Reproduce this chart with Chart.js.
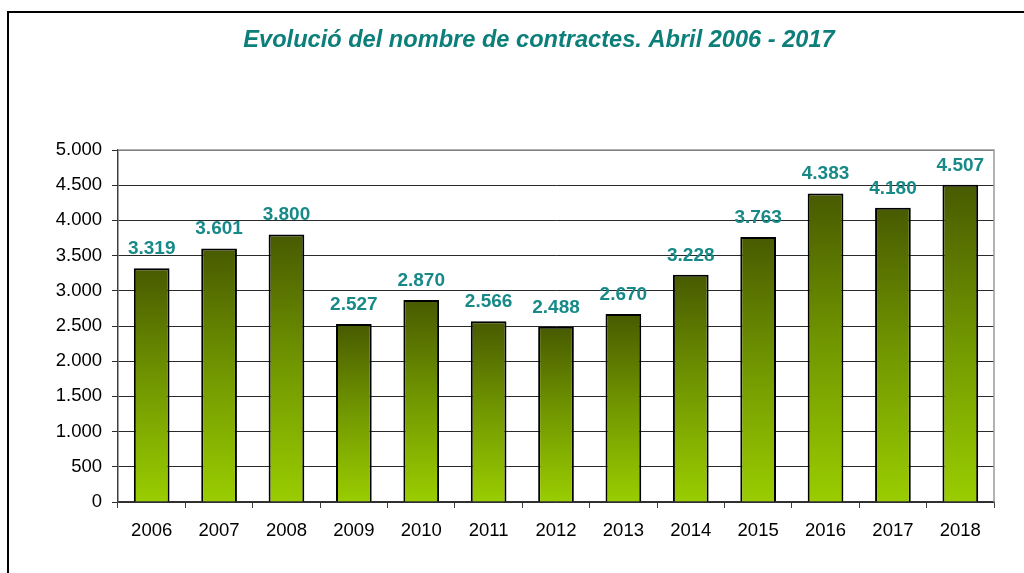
<!DOCTYPE html>
<html>
<head>
<meta charset="utf-8">
<script src="https://cdn.jsdelivr.net/npm/chart.js@4/dist/chart.umd.min.js"></script>
<style>
  html, body { margin: 0; padding: 0; background: #fff; }
  #wrap { width: 1024px; height: 573px; position: relative; }
</style>
</head>
<body>
<div id="wrap"><canvas id="c" width="1024" height="573"></canvas></div>
<script>
const titleText = 'Evolució del nombre de contractes. Abril 2006 - 2017';
const years = ['2006','2007','2008','2009','2010','2011','2012','2013','2014','2015','2016','2017','2018'];
const contracts = [3319, 3601, 3800, 2527, 2870, 2566, 2488, 2670, 3228, 3763, 4383, 4180, 4507];
const yMin = 0;
const yMax = 5000;
const yStep = 500;

function fmt(v) {
  return String(v).replace(/\B(?=(\d{3})+(?!\d))/g, '.');
}

const FONT = "'Liberation Sans', Arial, sans-serif";

const framePlugin = {
  id: 'frame',
  beforeDraw(chart) {
    const ctx = chart.ctx;
    ctx.save();
    ctx.fillStyle = '#fff';
    ctx.fillRect(0, 0, chart.width, chart.height);
    ctx.strokeStyle = '#000';
    ctx.lineWidth = 2;
    ctx.beginPath();
    ctx.moveTo(8, chart.height + 5);
    ctx.lineTo(8, 12);
    ctx.lineTo(chart.width + 5, 12);
    ctx.stroke();
    // title
    ctx.fillStyle = '#0c7f7a';
    ctx.font = "italic bold 23.6px " + FONT;
    ctx.textAlign = 'center';
    ctx.textBaseline = 'alphabetic';
    ctx.fillText(titleText, 539, 47);
    ctx.restore();
  },
  afterDraw(chart) {
    const a = chart.chartArea;
    const ctx = chart.ctx;
    ctx.save();
    ctx.strokeStyle = '#9a9a9a';
    ctx.lineWidth = 1.5;
    ctx.beginPath();
    ctx.moveTo(a.left, a.top);
    ctx.lineTo(a.right, a.top);
    ctx.lineTo(a.right, a.bottom);
    ctx.stroke();
    ctx.restore();
  },
  afterDatasetsDraw(chart) {
    const ctx = chart.ctx;
    const meta = chart.getDatasetMeta(0);
    ctx.save();
    ctx.fillStyle = '#178a88';
    ctx.font = "bold 19px " + FONT;
    ctx.textAlign = 'center';
    ctx.textBaseline = 'alphabetic';
    meta.data.forEach((bar, i) => {
      ctx.fillText(fmt(contracts[i]), bar.x, bar.y - 14);
    });
    ctx.restore();
  }
};

function barGradient(context) {
  const chart = context.chart;
  const ys = chart.scales && chart.scales.y;
  if (!chart.chartArea || !ys || context.raw === undefined) return '#7a9e00';
  const top = ys.getPixelForValue(context.raw);
  const bottom = ys.getPixelForValue(0);
  if (!isFinite(top) || !isFinite(bottom) || top === bottom) return '#7a9e00';
  const g = chart.ctx.createLinearGradient(0, top, 0, bottom);
  g.addColorStop(0, '#485a00');
  g.addColorStop(0.5, '#729800');
  g.addColorStop(1, '#9acd00');
  return g;
}

new Chart(document.getElementById('c'), {
  type: 'bar',
  data: {
    labels: years,
    datasets: [{
      data: contracts,
      backgroundColor: barGradient,
      borderColor: '#000',
      borderWidth: 2,
      categoryPercentage: 1,
      barPercentage: 0.53
    }]
  },
  plugins: [framePlugin],
  options: {
    responsive: false,
    animation: false,
    devicePixelRatio: 1,
    layout: { padding: { left: 20, right: 30, top: 150, bottom: 0 } },
    plugins: {
      legend: { display: false },
      title: { display: false },
      tooltip: { enabled: false }
    },
    scales: {
      x: {
        offset: true,
        grid: {
          offset: true,
          drawOnChartArea: false,
          drawTicks: true,
          tickLength: 6,
          color: '#404040',
          lineWidth: 1
        },
        border: { color: '#333', width: 1.5 },
        ticks: {
          color: '#000',
          font: { family: FONT, size: 18.5 },
          padding: 12,
          maxRotation: 0,
          autoSkip: false
        },
        afterFit(scale) { scale.height = 573 - 502; }
      },
      y: {
        min: yMin,
        max: yMax,
        grid: {
          color: '#2a2a2a',
          lineWidth: 1,
          drawTicks: true,
          tickLength: 6
        },
        border: { color: '#404040', width: 1.5 },
        ticks: {
          stepSize: yStep,
          color: '#000',
          font: { family: FONT, size: 18.5 },
          padding: 10,
          callback: (v) => fmt(v)
        },
        afterFit(scale) { scale.width = 118 - 20; }
      }
    }
  }
});
</script>
</body>
</html>
